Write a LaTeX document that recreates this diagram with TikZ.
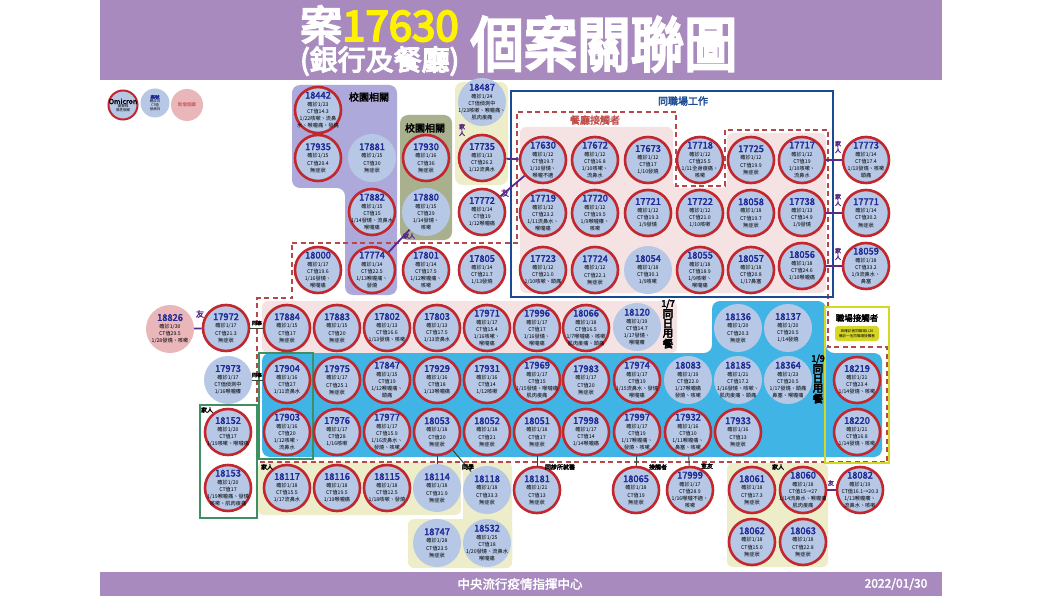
\documentclass[tikz,border=0pt]{standalone}
\usepackage{fontspec}
\setmainfont{Noto Sans CJK TC}
\newfontfamily\cjkb{Noto Sans CJK TC}[FakeBold=2.5]
\newfontfamily\cjkh{Noto Sans CJK TC}[FakeBold=4.5]
\definecolor{hpurple}{HTML}{A88ABE}
\definecolor{tyellow}{HTML}{FFF200}
\definecolor{cfill}{HTML}{B6C8E6}
\definecolor{cred}{HTML}{C1272D}
\definecolor{cpink}{HTML}{E9B6BA}
\definecolor{numblue}{HTML}{1F2A96}
\definecolor{bblue}{HTML}{1B4A94}
\definecolor{pinkbg}{HTML}{F5E2E2}
\definecolor{cyanbg}{HTML}{40B4E5}
\definecolor{lavbg}{HTML}{ADA9DA}
\definecolor{olivebg}{HTML}{A8B08E}
\definecolor{beigebg}{HTML}{EDEDC9}
\definecolor{gbox}{HTML}{3F8F64}
\definecolor{ybox}{HTML}{D6D626}
\definecolor{dred}{HTML}{B5484A}
\definecolor{pline}{HTML}{5A2A8A}
\definecolor{kline}{HTML}{2E4A2E}
\definecolor{orred}{HTML}{C0504D}
\newcommand{\cs}[2]{{\cjkb\fontsize{9.3}{9.3}\selectfont\color{numblue}#1}\\[0.5pt]#2}
\tikzset{
  rc/.style={circle, draw=cred, line width=2.6pt, fill=cfill, minimum size=46pt, inner sep=-10pt, align=center, font=\fontsize{5.2}{7.2}\selectfont},
  lc/.style={circle, fill=cfill, minimum size=48pt, inner sep=-10pt, align=center, font=\fontsize{5.2}{7.2}\selectfont},
  pc/.style={circle, fill=cpink, minimum size=48pt, inner sep=-10pt, align=center, font=\fontsize{5.2}{7.2}\selectfont},
  pe/.style={draw=pline, line width=1.8pt},
  ke/.style={draw=kline, line width=1pt},
  lab/.style={inner sep=0pt, font=\cjkb\fontsize{6}{6.5}\selectfont, align=center},
  plab/.style={lab, text=pline},
  grp/.style={font=\cjkb\fontsize{10}{10}\selectfont, inner sep=0pt},
  vlab/.style={inner sep=0pt, align=center, font=\cjkh\fontsize{10.5}{9.6}\selectfont}
}
\begin{document}
\begin{tikzpicture}[x=1pt,y=-1pt]
\useasboundingbox (0,0) rectangle (1060,596);
\fill[white] (0,0) rectangle (1060,596);
% header and footer
\fill[hpurple] (100,0) rectangle (942,80);
\fill[hpurple] (100,572) rectangle (942,596);
\node[anchor=west, inner sep=0pt, font=\cjkh\fontsize{42}{42}\selectfont] (t1) at (300,25) {\textcolor{white}{案}\textcolor{tyellow}{17630}};
\node[anchor=west, inner sep=0pt, font=\cjkh\fontsize{28}{28}\selectfont, text=white] (t2) at (300,61) {(銀行及餐廳)};
\node[inner sep=0pt, font=\cjkh\fontsize{60}{60}\selectfont, text=white, xscale=0.89] (t3) at (604,44) {個案關聯圖};
\node[inner sep=0pt, font=\cjkb\fontsize{12.5}{12.5}\selectfont, text=white] (f1) at (520,584) {中央流行疫情指揮中心};
\node[inner sep=0pt, font=\cjkb\fontsize{12}{12}\selectfont, text=white] (f2) at (896,584) {2022/01/30};
% background groups
\fill[lavbg, rounded corners=8pt] (292,85) -- (397,85) -- (397,295) -- (345,295) -- (345,188) -- (292,188) -- cycle;
\fill[olivebg, rounded corners=8pt] (400,115) rectangle (452,240);
\fill[beigebg, rounded corners=8pt] (455,82) rectangle (508,185);
\fill[pinkbg, rounded corners=6pt] (520,127) -- (673,127) -- (673,188) -- (727,188) -- (727,133) -- (826,133) -- (826,293) -- (520,293) -- cycle;
\fill[pinkbg, rounded corners=6pt] (262,301) rectangle (677,353);
\fill[cyanbg, rounded corners=8pt] (262,353) -- (712,353) -- (712,301) -- (826,301) -- (826,353) -- (882,353) -- (882,457) -- (262,457) -- cycle;
\fill[beigebg, rounded corners=6pt] (258,462) rectangle (461,515);
\fill[beigebg, rounded corners=6pt] (463,462) rectangle (512,568);
\fill[beigebg, rounded corners=6pt] (408,519) rectangle (512,568);
\fill[beigebg, rounded corners=6pt] (727,463) rectangle (828,567);
% frames
\draw[dred, line width=1.8pt, dash pattern=on 5pt off 3.5pt] (292,243) -- (517,243) -- (517,112) -- (676,112) -- (676,186) -- (725,186) -- (725,130) -- (828,130) -- (828,347) -- (887,347) -- (887,462) -- (257,462) -- (257,298) -- (292,298) -- cycle;
\draw[bblue, line width=2.6pt] (511,91) rectangle (833,297);
\draw[gbox, line width=1.8pt] (259,353) rectangle (313,459);
\draw[gbox, line width=1.8pt] (200,405) rectangle (257,518);
\draw[ybox, line width=2.2pt] (825,307) rectangle (889,463);
\fill[ybox, rounded corners=3pt] (835,326) rectangle (879,341);
\node[inner sep=0pt, align=center, font=\fontsize{3.6}{4.6}\selectfont] (ytag) at (857,333.5) {與確診者同職場1/20\\確診一名同職場接觸者};
% group titles
\node[grp] (g1) at (369,97) {校園相關};
\node[grp] (g2) at (425,128) {校園相關};
\node[grp, text=bblue] (g3) at (683,101) {同職場工作};
\node[grp, text=orred] (g4) at (595,120) {餐廳接觸者};
\node[grp, font=\cjkb\fontsize{8.5}{8.5}\selectfont] (g5) at (857,318) {職場接觸者};
\node[vlab] (d17) at (668,324) {{\fontsize{9}{9}\selectfont 1/7}\\同\\日\\用\\餐};
\node[vlab] (d19) at (818,379) {{\fontsize{9}{9}\selectfont 1/9}\\同\\日\\用\\餐};
% legend
\node[rc, minimum size=29pt, line width=2pt, font=\fontsize{3.5}{4}\selectfont] (lg1) at (123,105) {{\cjkb\fontsize{7}{7}\selectfont Omicron}\\[-1pt]變異株\\陽性個案};
\node[lc, minimum size=29pt, font=\fontsize{3.5}{4}\selectfont] (lg2) at (155,103) {{\cjkb\fontsize{4.5}{5}\selectfont\color{numblue}案號}\\確診日\\CT值\\發病日};
\node[pc, minimum size=32pt] (lg3) at (187,105) {{\fontsize{4.6}{5}\selectfont\color{cred}新增個案}};
% top-left rows
\node[rc] (n18442) at (318,110) {\cs{18442}{確診1/23\\CT值14.3\\1/22咳嗽、流鼻\\水、喉嚨痛、發燒}};
\node[rc] (n17935) at (318,158) {\cs{17935}{確診1/15\\CT值29.4\\無症狀}};
\node[lc] (n17881) at (372,158) {\cs{17881}{確診1/15\\CT值30\\無症狀}};
\node[rc] (n17930) at (426,158) {\cs{17930}{確診1/16\\CT值36\\無症狀}};
\node[lc] (n18487) at (482,102) {\cs{18487}{確診1/24\\CT值偵測中\\1/23咳嗽、喉嚨痛、\\肌肉痠痛}};
\node[rc] (n17735) at (482,158) {\cs{17735}{確診1/13\\CT值26.2\\1/12流鼻水}};
\node[rc] (n17882) at (372,212) {\cs{17882}{確診1/15\\CT值15\\1/14發燒、流鼻水\\喉嚨痛}};
\node[lc] (n17880) at (426,212) {\cs{17880}{確診1/15\\CT值29\\1/14發燒、\\咳嗽}};
\node[rc] (n17772) at (482,212) {\cs{17772}{確診1/14\\CT值19\\1/12喉嚨痛}};
\node[rc] (n18000) at (318,270) {\cs{18000}{確診1/17\\CT值19.6\\1/16發燒、\\喉嚨痛}};
\node[rc] (n17774) at (372,270) {\cs{17774}{確診1/14\\CT值22.5\\1/13喉嚨痛、\\發燒}};
\node[rc] (n17801) at (426,270) {\cs{17801}{確診1/14\\CT值17.5\\1/12喉嚨痛、\\咳嗽}};
\node[rc] (n17805) at (482,270) {\cs{17805}{確診1/14\\CT值21.7\\1/13發燒}};
% workplace block
\node[rc] (n17630) at (543,160) {\cs{17630}{確診1/12\\CT值19.7\\1/10發燒、\\喉嚨不適}};
\node[rc] (n17672) at (595,160) {\cs{17672}{確診1/12\\CT值16.8\\1/10咳嗽、\\流鼻水}};
\node[rc] (n17673) at (648,160) {\cs{17673}{確診1/12\\CT值17\\1/10發燒}};
\node[rc] (n17718) at (700,160) {\cs{17718}{確診1/12\\CT值25.5\\1/11全身痠痛、\\咳嗽}};
\node[rc] (n17725) at (751,160) {\cs{17725}{確診1/12\\CT值19.9\\無症狀}};
\node[rc] (n17717) at (802,160) {\cs{17717}{確診1/12\\CT值19\\1/10咳嗽、\\流鼻水}};
\node[rc] (n17773) at (866,160) {\cs{17773}{確診1/14\\CT值17.4\\1/13發燒、咳嗽\\頭痛}};
\node[rc] (n17719) at (543,213) {\cs{17719}{確診1/12\\CT值23.2\\1/11流鼻水、\\喉嚨痛}};
\node[rc] (n17720) at (595,213) {\cs{17720}{確診1/12\\CT值19.5\\1/9喉嚨癢、\\咳嗽}};
\node[rc] (n17721) at (648,213) {\cs{17721}{確診1/12\\CT值19.3\\1/9發燒}};
\node[rc] (n17722) at (700,213) {\cs{17722}{確診1/12\\CT值21.0\\1/10咳嗽}};
\node[rc] (n18058) at (751,213) {\cs{18058}{確診1/18\\CT值19.7\\無症狀}};
\node[rc] (n17738) at (802,213) {\cs{17738}{確診1/13\\CT值14.9\\1/9發燒}};
\node[rc] (n17771) at (866,213) {\cs{17771}{確診1/14\\CT值30.2\\無症狀}};
\node[rc] (n17723) at (543,270) {\cs{17723}{確診1/12\\CT值21.0\\1/10咳嗽、頭痛}};
\node[rc] (n17724) at (595,270) {\cs{17724}{確診1/12\\CT值22.1\\無症狀}};
\node[lc] (n18054) at (648,270) {\cs{18054}{確診1/18\\CT值30.1\\1/9咳嗽}};
\node[rc] (n18055) at (700,270) {\cs{18055}{確診1/18\\CT值18.9\\1/9咳嗽、\\喉嚨痛}};
\node[rc] (n18057) at (751,270) {\cs{18057}{確診1/18\\CT值20.8\\1/17鼻塞}};
\node[rc] (n18056) at (802,266) {\cs{18056}{確診1/18\\CT值24.6\\1/10喉嚨痛}};
\node[rc] (n18059) at (866,266) {\cs{18059}{確診1/18\\CT值33.2\\1/9流鼻水、\\鼻塞}};
% row E
\node[pc] (n18826) at (170,329) {\cs{18826}{確診1/30\\CT值29.5\\1/28發燒、咳嗽}};
\node[rc] (n17972) at (226,328) {\cs{17972}{確診1/17\\CT值21.3\\無症狀}};
\node[rc] (n17884) at (287,328) {\cs{17884}{確診1/15\\CT值17\\無症狀}};
\node[rc] (n17883) at (337,328) {\cs{17883}{確診1/15\\CT值20\\無症狀}};
\node[rc] (n17802) at (387,328) {\cs{17802}{確診1/13\\CT值16.6\\1/13發燒、咳嗽}};
\node[rc] (n17803) at (437,328) {\cs{17803}{確診1/13\\CT值17.5\\1/13流鼻水}};
\node[rc] (n17971) at (487,328) {\cs{17971}{確診1/17\\CT值15.4\\1/16咳嗽、\\喉嚨痛}};
\node[rc] (n17996) at (537,328) {\cs{17996}{確診1/17\\CT值17\\1/16發燒、\\喉嚨痛}};
\node[rc] (n18066) at (586,328) {\cs{18066}{確診1/18\\CT值16.5\\1/7喉嚨痛、咳嗽\\肌肉痠痛、頭痛}};
\node[lc] (n18120) at (637,327) {\cs{18120}{確診1/19\\CT值14.7\\1/17發燒、\\喉嚨癢}};
\node[lc] (n18136) at (738,328) {\cs{18136}{確診1/20\\CT值20.3\\無症狀}};
\node[lc] (n18137) at (788,328) {\cs{18137}{確診1/20\\CT值20.5\\1/14發燒}};
% row F
\node[lc] (n17973) at (228,380) {\cs{17973}{確診1/17\\CT值偵測中\\1/16喉嚨癢}};
\node[rc] (n17904) at (287,380) {\cs{17904}{確診1/16\\CT值27\\1/11流鼻水}};
\node[rc] (n17975) at (337,380) {\cs{17975}{確診1/17\\CT值25.1\\無症狀}};
\node[rc] (n17847) at (387,380) {\cs{17847}{確診1/15\\CT值19\\1/12喉嚨痛、\\頭痛}};
\node[rc] (n17929) at (437,380) {\cs{17929}{確診1/16\\CT值18\\1/13喉嚨痛}};
\node[rc] (n17931) at (487,380) {\cs{17931}{確診1/16\\CT值14\\1/12咳嗽}};
\node[rc] (n17969) at (537,380) {\cs{17969}{確診1/17\\CT值15\\1/15發燒、喉嚨痛\\肌肉痠痛}};
\node[rc] (n17983) at (586,380) {\cs{17983}{確診1/17\\CT值20\\無症狀}};
\node[rc] (n17974) at (637,380) {\cs{17974}{確診1/17\\CT值19\\1/15流鼻水、發燒\\喉嚨痛}};
\node[lc] (n18083) at (688,380) {\cs{18083}{確診1/19\\CT值22.0\\1/17喉嚨痛\\發燒、咳嗽}};
\node[lc] (n18185) at (738,380) {\cs{18185}{確診1/21\\CT值17.2\\1/16發燒、咳嗽、\\肌肉痠痛、頭痛}};
\node[lc] (n18364) at (788,380) {\cs{18364}{確診1/23\\CT值20.5\\1/17發燒、頭痛\\鼻塞、喉嚨痛}};
\node[rc] (n18219) at (857,380) {\cs{18219}{確診1/21\\CT值23.4\\1/14發燒、咳嗽}};
% row G
\node[rc] (n18152) at (228,432) {\cs{18152}{確診1/20\\CT值17\\1/19咳嗽、喉嚨痛}};
\node[rc] (n17903) at (287,432) {\cs{17903}{確診1/16\\CT值20\\1/12咳嗽、\\流鼻水}};
\node[rc] (n17976) at (337,432) {\cs{17976}{確診1/17\\CT值28\\1/16咳嗽}};
\node[rc] (n17977) at (387,432) {\cs{17977}{確診1/17\\CT值15.9\\1/16流鼻水、\\發燒、咳嗽}};
\node[rc] (n18053) at (437,432) {\cs{18053}{確診1/18\\CT值20\\無症狀}};
\node[rc] (n18052) at (487,432) {\cs{18052}{確診1/18\\CT值21\\無症狀}};
\node[rc] (n18051) at (537,432) {\cs{18051}{確診1/18\\CT值17\\無症狀}};
\node[rc] (n17998) at (586,432) {\cs{17998}{確診1/17\\CT值14\\1/14喉嚨痛}};
\node[rc] (n17997) at (637,432) {\cs{17997}{確診1/17\\CT值19\\1/17喉嚨痛、\\發燒、咳嗽}};
\node[rc] (n17932) at (688,432) {\cs{17932}{確診1/16\\CT值10\\1/11喉嚨痛、\\鼻塞、咳嗽}};
\node[rc] (n17933) at (738,432) {\cs{17933}{確診1/16\\CT值13\\無症狀}};
\node[rc] (n18220) at (857,432) {\cs{18220}{確診1/21\\CT值16.8\\1/14發燒、咳嗽}};
% row H and I
\node[rc] (n18153) at (228,488) {\cs{18153}{確診1/20\\CT值17\\1/19喉嚨痛、發燒\\咳嗽、肌肉痠痛}};
\node[rc] (n18117) at (287,488) {\cs{18117}{確診1/18\\CT值15.5\\1/17流鼻水}};
\node[rc] (n18116) at (337,488) {\cs{18116}{確診1/18\\CT值19.5\\1/19喉嚨痛}};
\node[rc] (n18115) at (387,488) {\cs{18115}{確診1/18\\CT值12.5\\1/18咳嗽、發燒}};
\node[lc] (n18114) at (437,488) {\cs{18114}{確診1/18\\CT值31.9\\無症狀}};
\node[lc] (n18118) at (487,490) {\cs{18118}{確診1/18\\CT值33.3\\無症狀}};
\node[rc] (n18181) at (537,490) {\cs{18181}{確診1/21\\CT值13\\無症狀}};
\node[rc] (n18065) at (636,490) {\cs{18065}{確診1/18\\CT值19\\無症狀}};
\node[rc] (n17999) at (690,490) {\cs{17999}{確診1/17\\CT值28.9\\1/16喉嚨不適、\\咳嗽}};
\node[rc] (n18061) at (752,490) {\cs{18061}{確診1/18\\CT值17.3\\無症狀}};
\node[rc] (n18060) at (803,490) {\cs{18060}{確診1/18\\CT值15→27\\1/14流鼻水、喉嚨痛\\肌肉痠痛}};
\node[rc] (n18082) at (860,490) {\cs{18082}{確診1/19\\CT值16.1→20.3\\1/13喉嚨癢、\\流鼻水、咳嗽}};
\node[lc] (n18747) at (437,543) {\cs{18747}{確診1/28\\CT值23.5\\無症狀}};
\node[lc] (n18532) at (487,543) {\cs{18532}{確診1/25\\CT值18\\1/20發燒、流鼻水\\喉嚨痛}};
\node[rc] (n18062) at (752,542) {\cs{18062}{確診1/18\\CT值15.0\\無症狀}};
\node[rc] (n18063) at (803,542) {\cs{18063}{確診1/18\\CT值22.8\\無症狀}};
% connectors
\draw[pe] (n17735) -- (n17630);
\draw[pe] (n17772) -- (n17630);
\draw[pe] (n17880) -- (n17774);
\draw[pe] (n17717) -- (n17773);
\draw[pe] (n17738) -- (n17771);
\draw[pe] (n18056) -- (n18059);
\draw[pe] (n18826) -- (n17972);
\draw[pe] (n18060) -- (n18082);
\draw[ke] (n17972) -- (n17884);
\draw[ke] (n17973) -- (n17904);
\draw[ke] (n18053) -- (n18114);
\draw[ke] (n18053) -- (n18118);
\draw[ke] (n18051) -- (n18181);
\draw[ke] (n17997) -- (n18065);
\draw[ke] (n17932) -- (n17999);
% connector labels
\node[plab, font=\cjkb\fontsize{8}{8}\selectfont] (l1) at (505,193) {友};
\node[plab, font=\cjkb\fontsize{8}{8}\selectfont] (l2) at (200,314) {友};
\node[plab] (l3) at (409,236) {家人};
\node[plab] (l4) at (462,130) {家\\人};
\node[plab] (l5) at (838,147) {家\\人};
\node[plab] (l6) at (838,200) {家\\人};
\node[plab] (l7) at (838,254) {家\\人};
\node[plab] (l8) at (831,483) {友};
\node[lab, font=\cjkb\fontsize{5}{5}\selectfont] (l9) at (257,323) {同事};
\node[lab, font=\cjkb\fontsize{5}{5}\selectfont] (l10) at (257,375) {同事};
\node[lab] (l11) at (207,410) {家人};
\node[lab] (l12) at (267,467) {家人};
\node[lab] (l13) at (468,467) {同學};
\node[lab] (l14) at (560,467) {同診所就醫};
\node[lab] (l15) at (658,467) {接觸者};
\node[lab] (l16) at (707,466) {室友};
\node[lab] (l17) at (778,467) {家人};
\end{tikzpicture}
\end{document}
